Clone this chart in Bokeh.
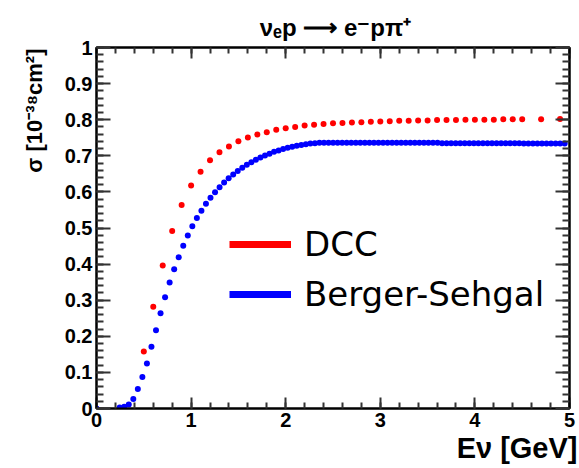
from bokeh.plotting import figure
from bokeh.models import (Range1d, FixedTicker, LinearAxis, Legend, LegendItem, Title)
from bokeh.embed import file_html
from bokeh.resources import INLINE

# ---------------- data ----------------
dcc_E = [0.5, 0.6, 0.7, 0.8, 0.9, 1.0, 1.1, 1.2, 1.3, 1.4, 1.5, 1.6, 1.7, 1.8, 1.9,
         2.0, 2.1, 2.2, 2.3, 2.4, 2.5, 2.6, 2.7, 2.8, 2.9, 3.0, 3.1, 3.2, 3.3, 3.4,
         3.5, 3.6, 3.7, 3.8, 3.9, 4.0, 4.1, 4.2, 4.3, 4.4, 4.5, 4.7, 4.9]
dcc_sigma = [0.158, 0.282, 0.396, 0.492, 0.564, 0.618, 0.656, 0.688, 0.710, 0.726,
             0.740, 0.751, 0.759, 0.765, 0.772, 0.776, 0.780, 0.784, 0.786, 0.788,
             0.790, 0.791, 0.792, 0.793, 0.794, 0.795, 0.796, 0.797, 0.797, 0.798,
             0.798, 0.799, 0.799, 0.799, 0.800, 0.800, 0.800, 0.800, 0.801, 0.801,
             0.801, 0.801, 0.802]

bs_E = [0.0, 0.245, 0.293, 0.341, 0.389, 0.437, 0.485, 0.533, 0.581, 0.629, 0.677,
        0.725, 0.773, 0.821, 0.869, 0.917, 0.965, 1.013, 1.061, 1.109, 1.157,
        1.205, 1.253, 1.301, 1.349, 1.397, 1.445, 1.493, 1.541, 1.589, 1.637,
        1.685, 1.733, 1.781, 1.829, 1.877, 1.925, 1.973, 2.021, 2.069, 2.117,
        2.165, 2.213, 2.261, 2.309, 2.357, 2.405, 2.453, 2.501, 2.549, 2.597,
        2.645, 2.693, 2.741, 2.789, 2.837, 2.885, 2.933, 2.981, 3.029, 3.077,
        3.125, 3.173, 3.221, 3.269, 3.317, 3.365, 3.413, 3.461, 3.509, 3.557,
        3.605, 3.653, 3.701, 3.749, 3.797, 3.845, 3.893, 3.941, 3.989, 4.037,
        4.085, 4.133, 4.181, 4.229, 4.277, 4.325, 4.373, 4.421, 4.469, 4.517,
        4.565, 4.613, 4.661, 4.709, 4.757, 4.805, 4.853, 4.901, 4.949]
bs_sigma = [0.000, 0.003, 0.005, 0.011, 0.026, 0.054, 0.087, 0.125, 0.171, 0.217, 0.264,
            0.308, 0.349, 0.386, 0.419, 0.451, 0.479, 0.505, 0.528, 0.548, 0.567,
            0.584, 0.599, 0.613, 0.626, 0.638, 0.648, 0.658, 0.667, 0.675, 0.682,
            0.689, 0.695, 0.701, 0.706, 0.711, 0.715, 0.719, 0.722, 0.725, 0.728,
            0.730, 0.732, 0.734, 0.735, 0.736, 0.736, 0.736, 0.736, 0.736, 0.736,
            0.736, 0.736, 0.736, 0.736, 0.736, 0.736, 0.736, 0.736, 0.736, 0.736,
            0.736, 0.736, 0.736, 0.736, 0.736, 0.736, 0.736, 0.736, 0.736, 0.736,
            0.736, 0.735, 0.735, 0.735, 0.735, 0.735, 0.735, 0.735, 0.735, 0.735,
            0.735, 0.735, 0.735, 0.735, 0.735, 0.735, 0.735, 0.735, 0.735, 0.734,
            0.734, 0.734, 0.734, 0.734, 0.734, 0.734, 0.734, 0.734, 0.734]

x_ticks = [0, 1, 2, 3, 4, 5]
x_tick_labels = ["0", "1", "2", "3", "4", "5"]
y_ticks = [0, 0.1, 0.2, 0.3, 0.4, 0.5, 0.6, 0.7, 0.8, 0.9, 1]
y_tick_labels = ["0", "0.1", "0.2", "0.3", "0.4", "0.5", "0.6", "0.7", "0.8", "0.9", "1"]
series_names = ["DCC", "Berger-Sehgal"]
series_colors = ["#ff0000", "#0000ff"]

title_text = "\u03bd\u2091p \u27f6 e\u207bp\u03c0\u207a"
ylabel_text = "\u03c3 [10\u207b\u00b3\u2078cm\u00b2]"
xlabel_text = "E\u03bd [GeV]"

# ---------------- figure ----------------
p = figure(width=579, height=468, output_backend="svg", toolbar_location=None,
           x_range=Range1d(0, 5), y_range=Range1d(0, 1),
           min_border_left=96, min_border_right=10, min_border_top=47, min_border_bottom=60)
p.grid.visible = False
p.outline_line_color = "black"
p.outline_line_width = 2
p.background_fill_color = "white"
p.border_fill_color = "white"

x_minor = [i * 0.2 for i in range(26)]
y_minor = [i * 0.02 for i in range(51)]

def style_axis(ax, ticks, minor, labels, tick_in, minor_in, show_labels):
    ax.ticker = FixedTicker(ticks=ticks, minor_ticks=minor)
    ax.major_label_overrides = {t: l for t, l in zip(ticks, labels)}
    ax.major_tick_in = tick_in
    ax.major_tick_out = 0
    ax.minor_tick_in = minor_in
    ax.minor_tick_out = 0
    ax.axis_line_color = "black"
    ax.axis_line_width = 2
    ax.major_tick_line_color = "#333333"
    ax.minor_tick_line_color = "#333333"
    ax.major_tick_line_width = 2
    ax.minor_tick_line_width = 2
    if show_labels:
        ax.major_label_text_font = "Liberation Sans"
        ax.major_label_text_font_style = "bold"
        ax.major_label_text_font_size = "20px"
        ax.major_label_text_color = "black"
        ax.major_label_standoff = 4
    else:
        ax.major_label_text_font_size = "0px"
        ax.major_label_standoff = 0

style_axis(p.xaxis[0], x_ticks, x_minor, x_tick_labels, 11, 6, True)
style_axis(p.yaxis[0], y_ticks, y_minor, y_tick_labels, 14, 7, True)

top_ax = LinearAxis()
style_axis(top_ax, x_ticks, x_minor, x_tick_labels, 11, 6, False)
p.add_layout(top_ax, "above")
right_ax = LinearAxis()
style_axis(right_ax, y_ticks, y_minor, y_tick_labels, 14, 7, False)
p.add_layout(right_ax, "right")

# ---------------- data marks ----------------
p.scatter(dcc_E, dcc_sigma, size=6, color=series_colors[0], line_alpha=0)
p.scatter(bs_E, bs_sigma, size=6, color=series_colors[1], line_alpha=0)

# legend (line samples, proxies carry no visible data)
nan = float("nan")
r_leg0 = p.line([nan], [nan], line_color=series_colors[0], line_width=7)
r_leg1 = p.line([nan], [nan], line_color=series_colors[1], line_width=7)
legend = Legend(items=[LegendItem(label=series_names[0], renderers=[r_leg0]),
                       LegendItem(label=series_names[1], renderers=[r_leg1])],
                location=(133, 94), orientation="vertical",
                background_fill_alpha=0, border_line_alpha=0,
                padding=0, margin=0, spacing=10,
                glyph_width=62, glyph_height=40, label_height=40, label_standoff=13,
                label_text_font="DejaVu Sans", label_text_font_size="34px",
                label_text_color="black")
p.add_layout(legend, "center")

# ---------------- texts ----------------
p.add_layout(Title(text=title_text, align="center", text_font="Liberation Sans",
                   text_font_style="bold", text_font_size="24px", text_color="black",
                   standoff=13), "above")

p.add_layout(Title(text=ylabel_text, align="right", text_font="Liberation Sans",
                   text_font_style="bold", text_font_size="22px", text_color="black",
                   standoff=30, offset=1), "left")

p.add_layout(Title(text=xlabel_text, align="right", vertical_align="top",
                   text_font="Liberation Sans", text_font_style="bold",
                   text_font_size="29px", text_color="black",
                   standoff=4, offset=-8), "below")

open("out.html", "w").write(file_html(p, INLINE))
